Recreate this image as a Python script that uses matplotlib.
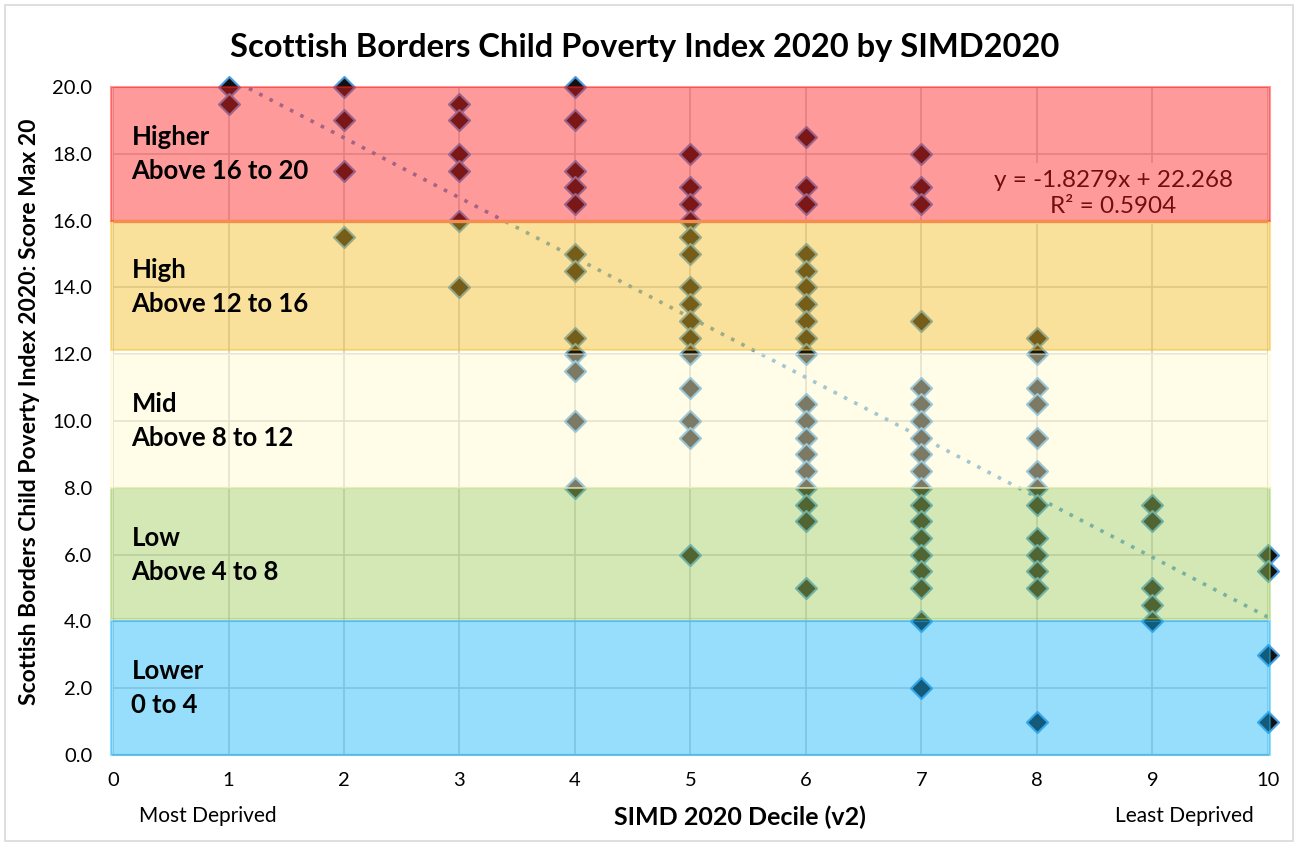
import numpy as np
import matplotlib.pyplot as plt
from matplotlib.patches import Rectangle

plt.rcParams['font.family'] = ['Lato', 'DejaVu Sans']

# SIMD 2020 decile and child poverty index score
scores = {
    1: [20, 19.5],
    2: [20, 19, 17.5, 15.5],
    3: [19.5, 19, 18, 17.5, 16, 14],
    4: [20, 19, 17.5, 17, 16.5, 15, 14.5, 12.5, 12, 11.5, 10, 8],
    5: [18, 17, 16.5, 16, 15.5, 15, 14, 13.5, 13, 12.5, 12, 11, 10, 9.5, 6],
    6: [18.5, 17, 16.5, 15, 14.5, 14, 13.5, 13, 12.5, 12, 10.5, 10, 9.5, 9, 8.5, 8, 7.5, 7, 5],
    7: [18, 17, 16.5, 13, 11, 10.5, 10, 9.5, 9, 8.5, 8, 7.5, 7, 6.5, 6, 5.5, 5, 4, 2],
    8: [12.5, 12, 11, 10.5, 9.5, 8.5, 8, 7.5, 6.5, 6, 5.5, 5, 1],
    9: [7.5, 7, 5, 4.5, 4],
    10: [6, 5.5, 3, 1],
}
decile = np.array([d for d in scores for s in scores[d]], dtype=float)
score = np.array([s for d in scores for s in scores[d]], dtype=float)

band_names = ["Lower\n0 to 4", "Low\nAbove 4 to 8", "Mid\nAbove 8 to 12",
              "High\nAbove 12 to 16", "Higher\nAbove 16 to 20"]
band_lo = [0, 4.07, 8, 12.12, 16]
band_hi = [4, 8, 12, 16, 20]
band_col = ["#17b6fa", "#9fcd5b", "#fffbcc", "#f4bd21", "#ff2020"]

fig = plt.figure(figsize=(12.98, 8.43), dpi=100)
ax = fig.add_axes([113/1298, 88/843, 1155/1298, 668/843])

ax.set_xlim(0, 10)
ax.set_ylim(0, 20)
ax.set_xticks(range(0, 11))
ax.set_yticks(np.arange(0, 21, 2))
ax.set_yticklabels([f"{v:.1f}" for v in np.arange(0, 21, 2)])
ax.tick_params(length=0, labelsize=14.5)
ax.tick_params(axis="y", pad=15)
ax.tick_params(axis="x", pad=12)
ax.grid(True, color="#cfcfcf", lw=1.2, zorder=0.5)
ax.set_axisbelow(True)
for s in ["top", "right", "left"]:
    ax.spines[s].set_visible(False)
ax.spines["bottom"].set_color("#c8c8c8")
ax.spines["bottom"].set_linewidth(1.5)

# linear trendline
m, c = np.polyfit(decile, score, 1)
xt = np.array([1, 10])
ax.plot(xt, m*xt + c, ls=(0, (1, 2.2)), lw=2.6, color="#5b9bd5", zorder=1)

# trendline label sits under the bands, so it gets tinted like the markers
ax.text(8.66, 16.8, "y = -1.8279x + 22.268\nR² = 0.5904", ha="center", va="center",
        fontsize=17.5, linespacing=1.3, color="#000000", zorder=1.5,
        bbox=dict(facecolor="white", edgecolor="none", pad=5))

ax.scatter(decile, score, marker="D", s=115, facecolor="#111111",
           edgecolor="#4a9be0", linewidth=1.5, zorder=2, clip_on=False)

for lo, hi, col, name in zip(band_lo, band_hi, band_col, band_names):
    ax.add_patch(Rectangle((-0.015, lo), 10.03, hi - lo, facecolor=col, edgecolor=col,
                           lw=1.5, alpha=0.45, zorder=3, clip_on=False))
    ax.text(0.16, hi - 2, name, fontsize=18.5, fontweight="bold",
            va="center", ha="left", linespacing=1.5, zorder=5)

ax.plot([0, 10], [16, 16], color="#f58c50", lw=2.4, zorder=4, solid_capstyle="butt")

fig.text(645/1298, 1 - 47/843, "Scottish Borders Child Poverty Index 2020 by SIMD2020",
         ha="center", va="center", fontsize=23.5, fontweight="bold")
fig.text(30/1298, 1 - 412/843, "Scottish Borders Child Poverty Index 2020: Score Max 20",
         ha="center", va="center", rotation=90, fontsize=16.5, fontweight="bold")
fig.text(740/1298, 1 - 817/843, "SIMD 2020 Decile (v2)", ha="center", va="center",
         fontsize=18, fontweight="bold")
fig.text(208/1298, 1 - 816/843, "Most Deprived", ha="center", va="center", fontsize=15)
fig.text(1184/1298, 1 - 816/843, "Least Deprived", ha="center", va="center", fontsize=15)

fig.add_artist(Rectangle((5/1298, 2/843), 1288/1298, 836/843, transform=fig.transFigure,
                         fill=False, edgecolor="#d9d9d9", lw=1.2))

fig.savefig("out.png", dpi=100)
